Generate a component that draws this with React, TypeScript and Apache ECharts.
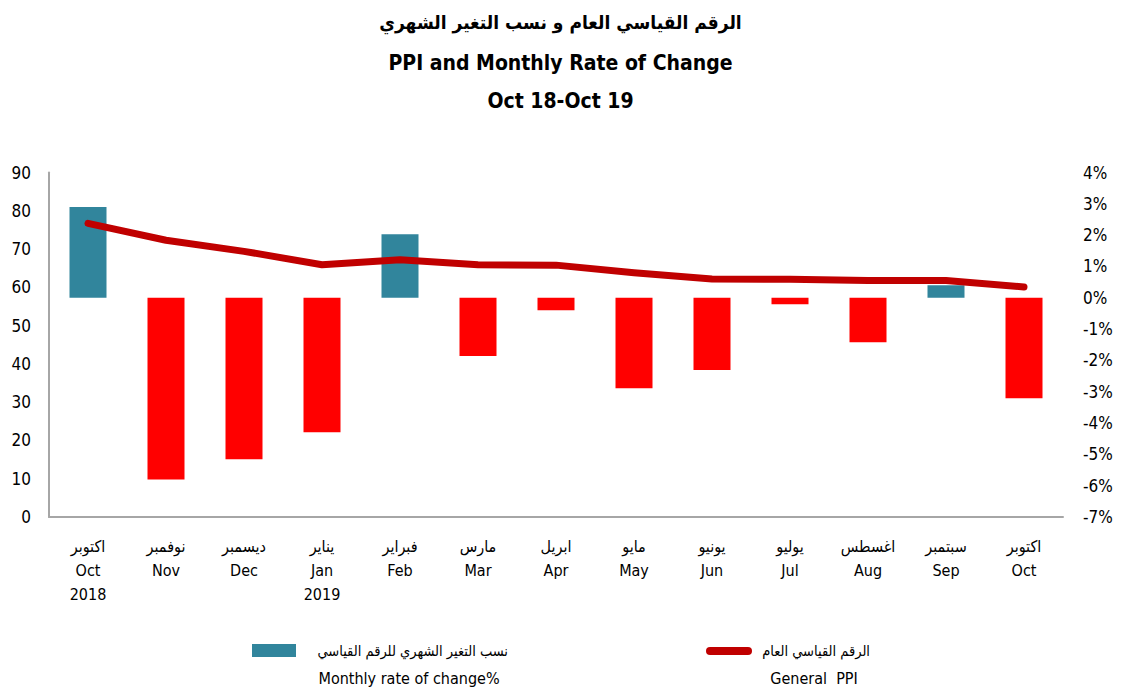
import React, { useEffect, useRef } from "react";
import * as echarts from "echarts";

const categories = [
  "اكتوبر\nOct\n2018",
  "نوفمبر\nNov",
  "ديسمبر\nDec",
  "يناير\nJan\n2019",
  "فبراير\nFeb",
  "مارس\nMar",
  "ابريل\nApr",
  "مايو\nMay",
  "يونيو\nJun",
  "يوليو\nJul",
  "اغسطس\nAug",
  "سبتمبر\nSep",
  "اكتوبر\nOct",
];

// Monthly rate of change (%), right axis
const rateOfChange = [2.9, -5.8, -5.16, -4.29, 2.03, -1.86, -0.4, -2.89, -2.31, -0.21, -1.42, 0.4, -3.21];

// General PPI, left axis
const generalPPI = [76.7, 72.3, 69.4, 65.9, 67.2, 65.9, 65.8, 63.8, 62.2, 62.1, 61.8, 61.8, 60.1];

const leftTicks = { min: 0, max: 90, interval: 10 };
const rightTicks = { min: -7, max: 4, interval: 1 };

const FONT = "'DejaVu Sans Condensed', 'DejaVu Sans', sans-serif";
const TEAL = "#31859C";
const RED = "#FF0000";
const DARKRED = "#C00000";

export default function App() {
  const ref = useRef<HTMLDivElement>(null);
  useEffect(() => {
    document.body.style.margin = "0";
    if (!ref.current) return;
    const chart = echarts.init(ref.current, undefined, { renderer: "svg" });
    chart.setOption({
      animation: false,
      backgroundColor: "#ffffff",
      title: [
        {
          text: "الرقم القياسي العام و نسب التغير الشهري",
          left: "center",
          top: 7,
          textStyle: { fontFamily: FONT, fontSize: 19, fontWeight: "bold", color: "#000" },
        },
        {
          text: "PPI and Monthly Rate of Change",
          left: "center",
          top: 47,
          textStyle: { fontFamily: FONT, fontSize: 21, fontWeight: "bold", color: "#000" },
        },
        {
          text: "Oct 18-Oct 19",
          left: "center",
          top: 85,
          textStyle: { fontFamily: FONT, fontSize: 21, fontWeight: "bold", color: "#000" },
        },
      ],
      grid: { left: 49, right: 58, top: 172.5, bottom: 174, containLabel: false },
      xAxis: {
        type: "category",
        data: categories,
        axisLine: { show: true, lineStyle: { color: "#A6A6A6", width: 2 } },
        axisTick: { show: false },
        axisLabel: {
          fontFamily: FONT,
          fontSize: 16,
          color: "#000",
          lineHeight: 24,
          margin: 17,
          interval: 0,
        },
      },
      yAxis: [
        {
          type: "value",
          ...leftTicks,
          position: "left",
          axisLine: { show: true, lineStyle: { color: "#A6A6A6", width: 2 } },
          axisTick: { show: false },
          splitLine: { show: false },
          axisLabel: { fontFamily: FONT, fontSize: 17, color: "#000", margin: 18 },
        },
        {
          type: "value",
          ...rightTicks,
          position: "right",
          axisLine: { show: false },
          axisTick: { show: false },
          splitLine: { show: false },
          axisLabel: {
            fontFamily: FONT,
            fontSize: 17,
            color: "#000",
            margin: 20,
            formatter: "{value}%",
          },
        },
      ],
      series: [
        {
          name: "Monthly rate of change%",
          type: "bar",
          yAxisIndex: 1,
          data: rateOfChange,
          barWidth: 37,
          itemStyle: {
            color: (p: any) => (p.value >= 0 ? TEAL : RED),
          },
          z: 2,
        },
        {
          name: "General PPI",
          type: "line",
          yAxisIndex: 0,
          data: generalPPI,
          symbol: "none",
          lineStyle: { color: DARKRED, width: 7, cap: "round", join: "round" },
          z: 3,
        },
      ],
      graphic: [
        { type: "rect", shape: { x: 252, y: 644, width: 44, height: 13 }, style: { fill: TEAL } },
        {
          type: "text",
          x: 508,
          y: 651,
          style: {
            text: "نسب التغير الشهري للرقم القياسي",
            fontFamily: FONT,
            fontSize: 14.5,
            fill: "#000",
            align: "right",
            verticalAlign: "middle",
          },
        },
        {
          type: "text",
          x: 409,
          y: 678,
          style: {
            text: "Monthly rate of change%",
            fontFamily: FONT,
            fontSize: 16,
            fill: "#000",
            align: "center",
            verticalAlign: "middle",
          },
        },
        {
          type: "line",
          shape: { x1: 710, y1: 651, x2: 748, y2: 651 },
          style: { stroke: DARKRED, lineWidth: 8, lineCap: "round" },
        },
        {
          type: "text",
          x: 870,
          y: 651,
          style: {
            text: "الرقم القياسي العام",
            fontFamily: FONT,
            fontSize: 14.5,
            fill: "#000",
            align: "right",
            verticalAlign: "middle",
          },
        },
        {
          type: "text",
          x: 814,
          y: 678,
          style: {
            text: "General  PPI",
            fontFamily: FONT,
            fontSize: 16,
            fill: "#000",
            align: "center",
            verticalAlign: "middle",
          },
        },
      ],
    });
    return () => chart.dispose();
  }, []);
  return <div ref={ref} style={{ width: 1121, height: 691 }} />;
}
